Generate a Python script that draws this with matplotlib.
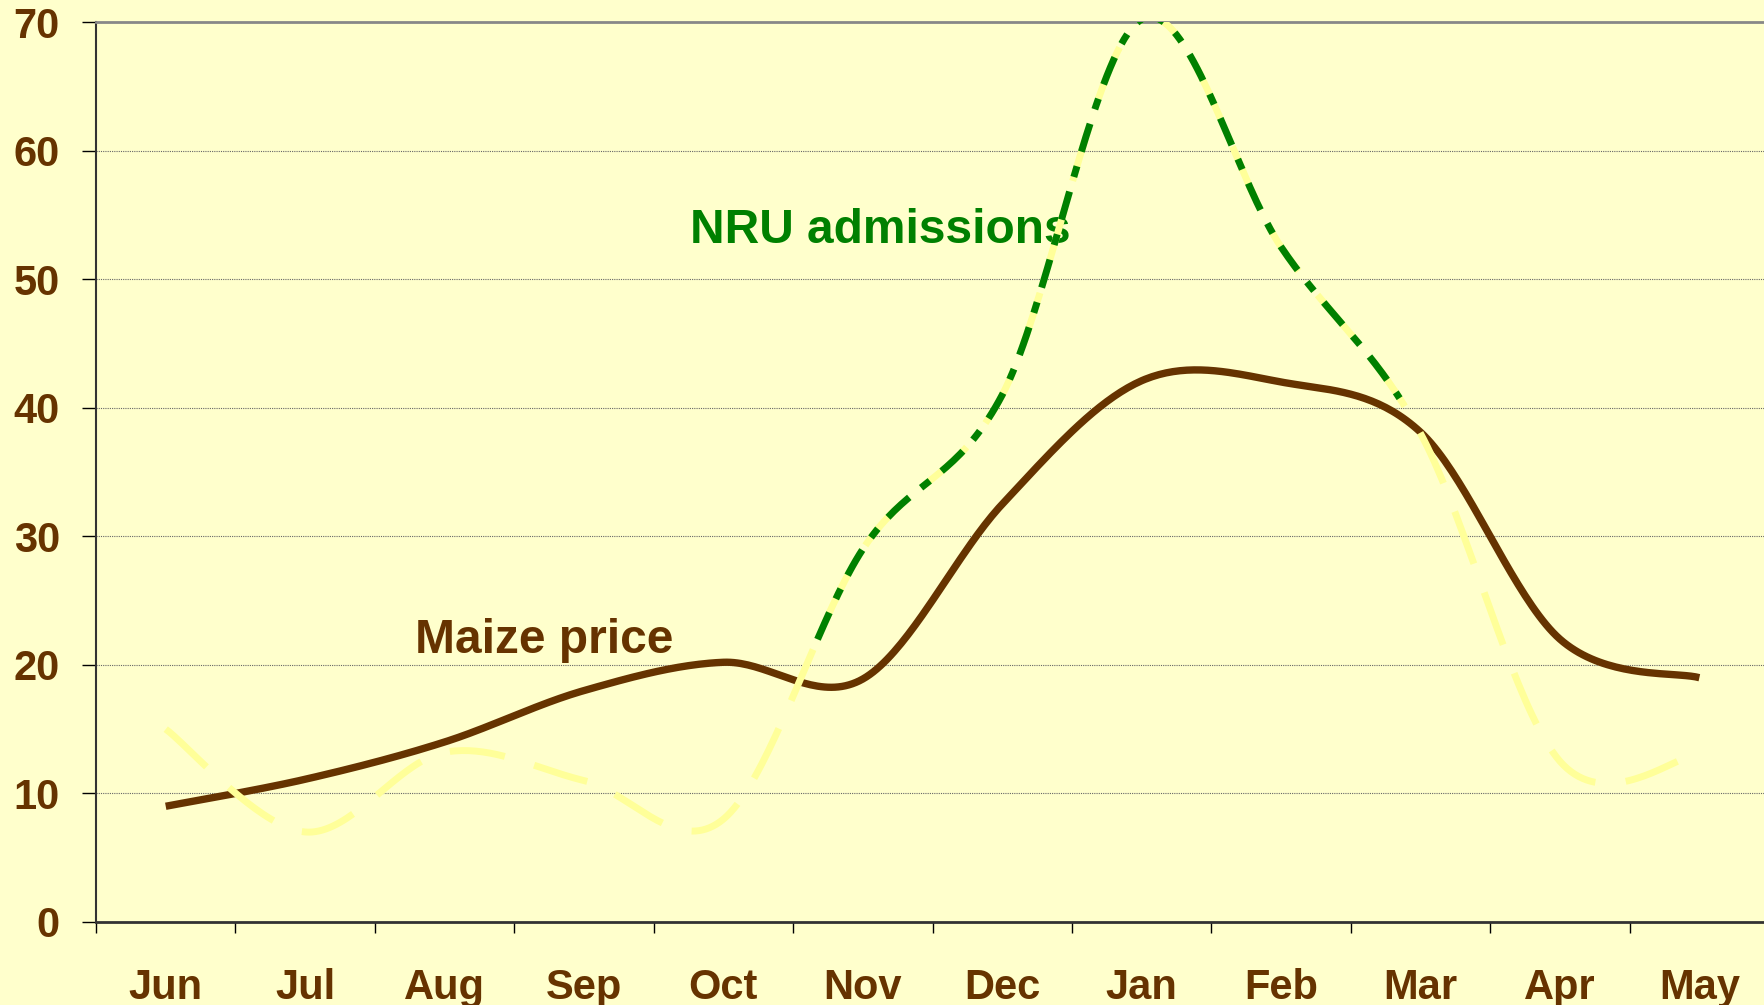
import matplotlib
matplotlib.use("Agg")
import matplotlib.pyplot as plt
import numpy as np

months = ["Jun", "Jul", "Aug", "Sep", "Oct", "Nov", "Dec", "Jan", "Feb", "Mar", "Apr", "May"]
maize_price = [9.0, 11.1, 14.0, 18.0, 20.2, 18.9, 32.5, 42.1, 42.0, 38.1, 22.0, 19.0]
nru_admissions = [15.0, 7.0, 13.2, 11.0, 8.0, 29.0, 41.0, 70.2, 52.5, 38.0, 12.5, 13.1]

BG = "#FFFFCC"
BROWN = "#663300"
GREEN = "#008000"
PALE = "#FFFF99"


def smooth(xs, ys, n=40):
    # excel style smoothed line (bezier with catmull-rom control points)
    xs = np.asarray(xs, float)
    ys = np.asarray(ys, float)
    px, py = [], []
    k = len(xs)
    for i in range(k - 1):
        x0, y0 = xs[max(i - 1, 0)], ys[max(i - 1, 0)]
        x1, y1 = xs[i], ys[i]
        x2, y2 = xs[i + 1], ys[i + 1]
        x3, y3 = xs[min(i + 2, k - 1)], ys[min(i + 2, k - 1)]
        c1x, c1y = x1 + (x2 - x0) / 6, y1 + (y2 - y0) / 6
        c2x, c2y = x2 - (x3 - x1) / 6, y2 - (y3 - y1) / 6
        t = np.linspace(0, 1, n, endpoint=(i == k - 2))
        a, b, c, d = (1 - t) ** 3, 3 * (1 - t) ** 2 * t, 3 * (1 - t) * t ** 2, t ** 3
        px.append(a * x1 + b * c1x + c * c2x + d * x2)
        py.append(a * y1 + b * c1y + c * c2y + d * y2)
    return np.concatenate(px), np.concatenate(py)


plt.rcParams["font.family"] = ["Liberation Sans", "DejaVu Sans"]
plt.rcParams["font.weight"] = "bold"

fig = plt.figure(figsize=(17.65, 10.05), dpi=100, facecolor=BG)
ax = fig.add_axes([0.0544, 0.0826, 0.9479, 0.8955])
ax.set_facecolor(BG)

x = np.arange(len(months)) + 0.5

mx, my = smooth(x, maize_price)
ax.plot(mx, my, color=BROWN, lw=5.3, solid_capstyle="butt", zorder=3)

nx, ny = smooth(x, nru_admissions)
ax.plot(nx, ny, color=PALE, lw=5.0, linestyle=(0, (8.0, 4.4)), dash_capstyle="butt", zorder=4)

# green dash-dot overlay on the admissions peak
sel = (nx >= 5.16) & (nx <= 9.35)
ax.plot(nx[sel], ny[sel], color=GREEN, lw=5.0, linestyle=(0, (4.2, 2.2, 1.6, 2.2)),
        dash_capstyle="butt", zorder=5)

ax.text(2.29, 20.9, "Maize price", color=BROWN, fontsize=34.5, fontweight="bold", va="baseline")
ax.text(4.26, 52.8, "NRU admissions", color=GREEN, fontsize=34.5, fontweight="bold", va="baseline")

ax.set_xlim(0, 12)
ax.set_ylim(0, 70)
ax.set_yticks(range(0, 71, 10))
ax.set_xticks(np.arange(0, 13))
ax.set_xticklabels([])
ax.set_xticks(x, minor=True)
ax.set_xticklabels(months, minor=True)
ax.tick_params(axis="x", which="major", length=8, width=1, color="black", direction="out")
ax.tick_params(axis="x", which="minor", length=0, pad=33, labelsize=30, labelcolor=BROWN)
ax.tick_params(axis="y", length=10, width=1, color="black", pad=16, labelsize=30, labelcolor=BROWN)
for lab in ax.get_xticklabels(minor=True) + ax.get_yticklabels():
    lab.set_fontweight("bold")

ax.yaxis.grid(True, color="#666666", lw=0.8, linestyle=(0, (1, 1)))
ax.set_axisbelow(True)

ax.spines["right"].set_visible(False)
ax.spines["top"].set_color("#888888")
ax.spines["top"].set_linewidth(2)
ax.spines["left"].set_color("#333333")
ax.spines["left"].set_linewidth(1.5)
ax.spines["bottom"].set_color("#333333")
ax.spines["bottom"].set_linewidth(2)

fig.savefig("out.png", dpi=100, facecolor=BG)
